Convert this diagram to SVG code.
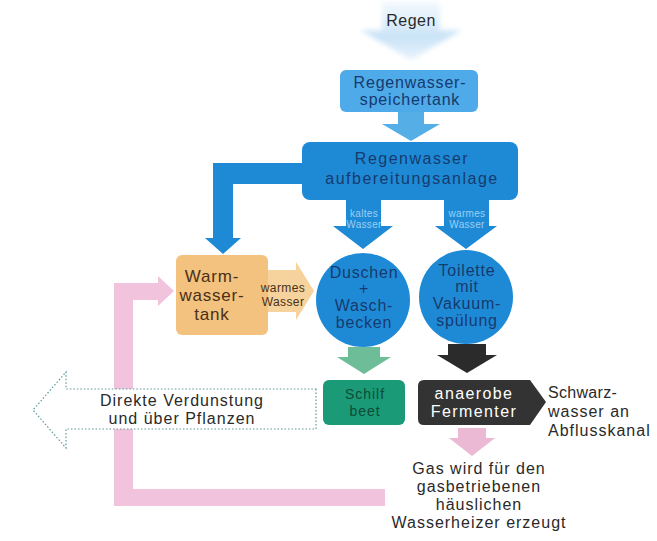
<svg xmlns="http://www.w3.org/2000/svg" width="657" height="541" viewBox="0 0 657 541">
<defs>
<style>
text{font-family:"Liberation Sans",Arial,sans-serif;text-anchor:middle}
.t{font-size:16px;fill:#2a2a2a;letter-spacing:1px}
.tb{font-size:16px;fill:#163a6e;letter-spacing:0.8px}
.sm{font-size:10px;fill:#9ccff3;letter-spacing:0.3px}
.br{font-size:17px;fill:#4a3018;letter-spacing:0.8px}
.dot{fill:#fff;stroke:#5a9a9a;stroke-width:1.2;stroke-dasharray:1.5 2}
</style>
<linearGradient id="rg" x1="0" y1="0" x2="0" y2="1">
<stop offset="0" stop-color="#e4f1fb" stop-opacity="0.5"/>
<stop offset="0.6" stop-color="#c9e3f7"/>
<stop offset="1" stop-color="#dcedfa" stop-opacity="0.7"/>
</linearGradient>
<filter id="blur" x="-20%" y="-20%" width="140%" height="140%"><feGaussianBlur stdDeviation="2.5"/></filter>
</defs>
<rect width="657" height="541" fill="#fff"/>
<g id="connectors">
<path d="M382,2 H440 V30 H462 L411,60 L360,30 H382 Z" fill="url(#rg)" filter="url(#blur)"/>
<path d="M398,112 H424 V124 H440 L411,141 L382,124 H398 Z" fill="#56aee6"/>
<path d="M302,163 V184 H233 V238 H241 L223,254 L205,238 H213 V163 Z" fill="#1e8ad6"/>
<path d="M346,200 H381 V226 H393 L363,249 L333,226 H346 Z" fill="#1e8ad6"/>
<path d="M444,200 H489 V226 H497 L466,249 L435,226 H444 Z" fill="#1e8ad6"/>
<path d="M262,270 H296 V262 L314,291 L296,320 V312 H262 Z" fill="#f6d29c"/>
<path d="M348,347 H380 V357 H391 L364,374 L337,357 H348 Z" fill="#6cbd98"/>
<path d="M448,344 H486 V355 H497 L467,373 L437,355 H448 Z" fill="#2b2b2b"/>
<path d="M458,428 H486 V438 H495 L472,456 L449,438 H458 Z" fill="#ebb9d4"/>
<path d="M385,489 V506 H114 V283 H158 V276 L174,291 L158,306 V300 H133 V489 Z" fill="#f1c3dc"/>
<path class="dot" d="M316,389 V429 H66 V448 L33,410 L66,372 V389 Z"/>
</g>
<g id="regen"><text class="t" x="411" y="26" style="letter-spacing:0.5px">Regen</text></g>
<g id="speicher">
<rect x="340" y="70" width="138" height="42" rx="6" fill="#4eaae8"/>
<text class="tb" x="410" y="88">Regenwasser-</text>
<text class="tb" x="410" y="105">speichertank</text>
</g>
<g id="aufbereitung">
<rect x="302" y="142" width="216" height="58" rx="8" fill="#1e8ad6"/>
<text class="tb" x="412" y="164" style="letter-spacing:1.5px">Regenwasser</text>
<text class="tb" x="412" y="184" style="letter-spacing:1.5px">aufbereitungsanlage</text>
<text class="sm" x="364" y="217">kaltes</text>
<text class="sm" x="364" y="228">Wasser</text>
<text class="sm" x="467" y="217">warmes</text>
<text class="sm" x="467" y="228">Wasser</text>
</g>
<g id="warmwasser">
<rect x="176" y="255" width="92" height="80" rx="6" fill="#f2c27e"/>
<text class="br" x="212" y="282">Warm-</text>
<text class="br" x="212" y="301">wasser-</text>
<text class="br" x="212" y="320">tank</text>
<text x="283" y="292" style="font-size:12px;fill:#4a3018;letter-spacing:0.4px">warmes</text>
<text x="283" y="306" style="font-size:12px;fill:#4a3018;letter-spacing:0.4px">Wasser</text>
</g>
<g id="duschen">
<circle cx="363" cy="300" r="47" fill="#1e8ad6"/>
<text class="tb" x="364" y="278">Duschen</text>
<text class="tb" x="364" y="294">+</text>
<text class="tb" x="364" y="311">Wasch-</text>
<text class="tb" x="364" y="328">becken</text>
</g>
<g id="toilette">
<circle cx="466" cy="297" r="47" fill="#1e8ad6"/>
<text class="tb" x="467" y="276">Toilette</text>
<text class="tb" x="467" y="292">mit</text>
<text class="tb" x="467" y="309">Vakuum-</text>
<text class="tb" x="467" y="326">spülung</text>
</g>
<g id="schilfbeet">
<rect x="323" y="380" width="82" height="45" rx="6" fill="#1a9a76"/>
<text x="365" y="399" style="font-size:14px;fill:#0e4a36;letter-spacing:1px">Schilf</text>
<text x="365" y="416" style="font-size:14px;fill:#0e4a36;letter-spacing:1px">beet</text>
</g>
<g id="fermenter">
<path d="M424,380 H530 L546,402 L530,425 H424 Q418,425 418,419 V386 Q418,380 424,380 Z" fill="#333"/>
<text x="474" y="399" style="font-size:16px;fill:#fff;letter-spacing:1.4px">anaerobe</text>
<text x="474" y="417" style="font-size:16px;fill:#fff;letter-spacing:1.4px">Fermenter</text>
</g>
<g id="schwarzwasser">
<text class="t" x="548" y="398" style="text-anchor:start;letter-spacing:0.3px">Schwarz-</text>
<text class="t" x="548" y="417" style="text-anchor:start">wasser an</text>
<text class="t" x="548" y="436" style="text-anchor:start">Abflusskanal</text>
</g>
<g id="verdunstung">
<text class="t" x="182" y="406">Direkte Verdunstung</text>
<text class="t" x="182" y="424">und über Pflanzen</text>
</g>
<g id="gas">
<text class="t" x="479" y="474">Gas wird für den</text>
<text class="t" x="479" y="492">gasbetriebenen</text>
<text class="t" x="479" y="510">häuslichen</text>
<text class="t" x="479" y="528">Wasserheizer erzeugt</text>
</g>
</svg>
